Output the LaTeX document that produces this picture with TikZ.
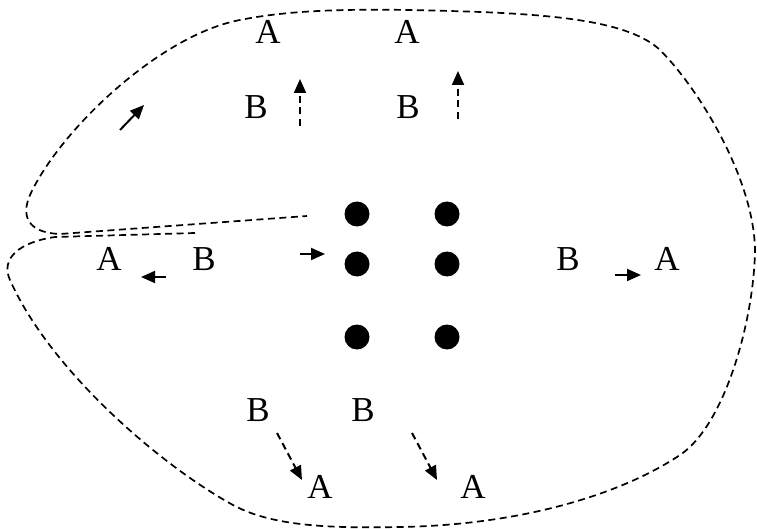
\documentclass[tikz,border=0pt]{standalone}
\usepackage{fontspec}
\setmainfont{Liberation Serif}
\usetikzlibrary{arrows.meta}
\begin{document}
\begin{tikzpicture}[x=1pt,y=-1pt,
  lbl/.style={inner sep=0pt,font=\fontsize{35}{40}\selectfont},
  dot/.style={circle,fill=black,minimum size=25pt,inner sep=0pt},
  boundary/.style={line width=1.7pt,dash pattern=on 7pt off 4.5pt},
  arr/.style={line width=2pt,-{Triangle[length=14pt,width=12pt]}},
  darr/.style={arr,dash pattern=on 7pt off 4.5pt}]
\useasboundingbox (0,0) rectangle (757,529);
% dots
\node[dot] (d1) at (357,214) {};
\node[dot] (d2) at (447,214) {};
\node[dot] (d3) at (357,264) {};
\node[dot] (d4) at (447,264) {};
\node[dot] (d5) at (357,337) {};
\node[dot] (d6) at (447,337) {};
% labels
\node[lbl] (tA1) at (268,32) {A};
\node[lbl] (tA2) at (407,32) {A};
\node[lbl] (tB1) at (256,107) {B};
\node[lbl] (tB2) at (408,107) {B};
\node[lbl] (lA) at (109,259) {A};
\node[lbl] (lB) at (204,259) {B};
\node[lbl] (rB) at (568,259) {B};
\node[lbl] (rA) at (667,259) {A};
\node[lbl] (bB1) at (258,410) {B};
\node[lbl] (bB2) at (363,410) {B};
\node[lbl] (bA1) at (320,487) {A};
\node[lbl] (bA2) at (473,487) {A};
% arrow end points
\coordinate (u1s) at (300,126); \coordinate (u1e) at (300,79);
\coordinate (u2s) at (458,119); \coordinate (u2e) at (458,71);
\coordinate (ds1) at (277,433); \coordinate (de1) at (302,480);
\coordinate (ds2) at (412,433); \coordinate (de2) at (437,480);
\coordinate (ul1) at (120,130); \coordinate (ul2) at (144,105);
\coordinate (ls) at (166,277); \coordinate (le) at (141,277);
\coordinate (ms) at (300,254); \coordinate (me) at (325,254);
\coordinate (rs) at (615,275); \coordinate (re) at (641,275);
% arrows
\draw[darr] (u1s) -- (u1e);
\draw[darr] (u2s) -- (u2e);
\draw[darr] (ds1) -- (de1);
\draw[darr] (ds2) -- (de2);
\draw[arr] (ul1) -- (ul2);
\draw[arr] (ls) -- (le);
\draw[arr] (ms) -- (me);
\draw[arr] (rs) -- (re);
% boundary curve
\draw[boundary] (195,233) -- (55,237)
  .. controls (20,242) and (0,258) .. (10,280)
  .. controls (50,370) and (160,465) .. (233,505)
  .. controls (275,528) and (340,528) .. (400,527)
  .. controls (520,525) and (620,495) .. (680,455)
  .. controls (725,425) and (754,320) .. (755,250)
  .. controls (754,180) and (700,90) .. (660,50)
  .. controls (630,22) and (560,14) .. (450,11)
  .. controls (350,8) and (290,10) .. (240,20)
  .. controls (160,35) and (60,130) .. (30,195)
  .. controls (20,218) and (30,233) .. (60,234)
  -- (307,216);
\end{tikzpicture}
\end{document}
